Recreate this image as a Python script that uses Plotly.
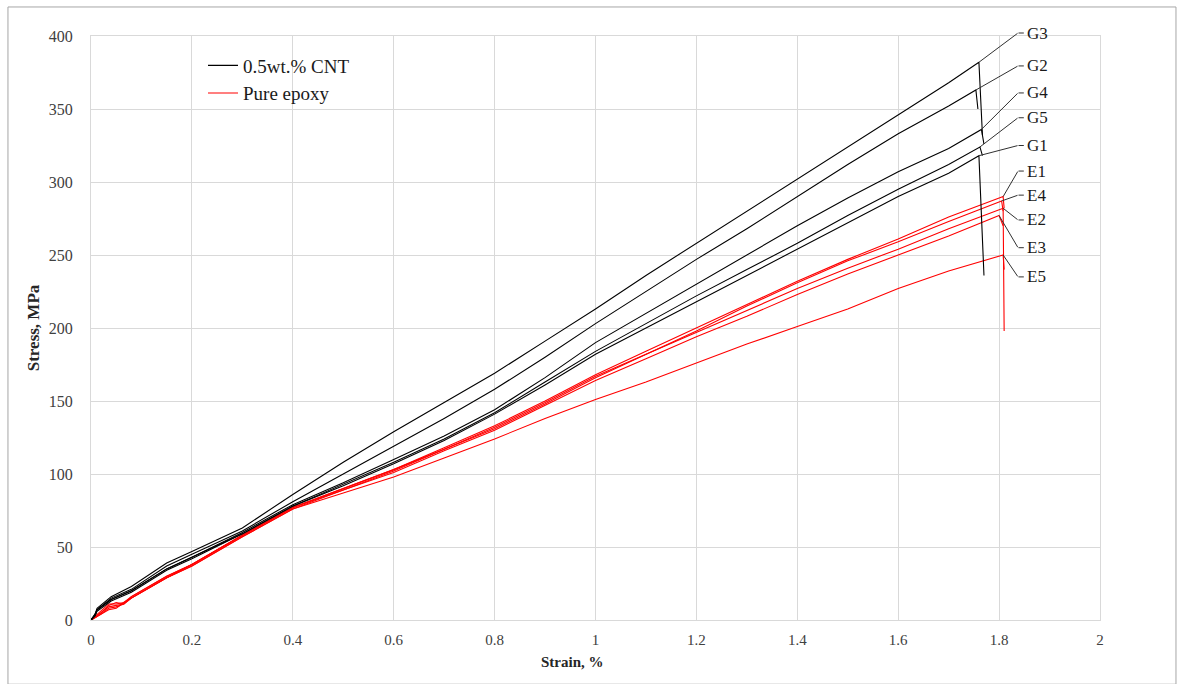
import plotly.graph_objects as go

# ---- tensile test curves: strain (%) vs stress (MPa) ----
# 0.5 wt.% CNT specimens
g1_strain = [0, 0.008, 0.012, 0.04, 0.08, 0.15, 0.2, 0.3, 0.4, 0.5, 0.6, 0.7, 0.8, 0.9, 1.0, 1.1, 1.2, 1.3, 1.4, 1.5, 1.6, 1.7, 1.76, 1.77]
g1_stress = [0, 3, 6, 13, 19, 34, 42, 59, 78, 92, 107, 123, 141, 161, 182, 200, 218, 236, 254, 272, 290, 306, 318, 236]

g2_strain = [0, 0.008, 0.012, 0.04, 0.08, 0.15, 0.2, 0.3, 0.4, 0.5, 0.6, 0.7, 0.8, 0.9, 1.0, 1.1, 1.2, 1.3, 1.4, 1.5, 1.6, 1.7, 1.754, 1.758]
g2_stress = [0, 4, 7, 15, 21, 37, 45, 61, 81, 100, 119, 138, 158, 180, 203, 225, 247, 268, 290, 312, 333, 352, 363, 350]

g3_strain = [0, 0.008, 0.012, 0.04, 0.08, 0.15, 0.2, 0.3, 0.4, 0.5, 0.6, 0.7, 0.8, 0.9, 1.0, 1.1, 1.2, 1.3, 1.4, 1.5, 1.6, 1.7, 1.76, 1.767]
g3_stress = [0, 4, 8, 16, 23, 39, 47, 63, 86, 108, 129, 149, 169, 191, 213, 236, 258, 280, 302, 324, 346, 368, 382, 332]

g4_strain = [0, 0.008, 0.012, 0.04, 0.08, 0.15, 0.2, 0.3, 0.4, 0.5, 0.6, 0.7, 0.8, 0.9, 1.0, 1.1, 1.2, 1.3, 1.4, 1.5, 1.6, 1.7, 1.765, 1.77]
g4_stress = [0, 3, 7, 14, 20, 35, 43, 60, 79, 94, 110, 126, 144, 166, 190, 210, 230, 250, 270, 289, 307, 323, 336, 326]

g5_strain = [0, 0.008, 0.012, 0.04, 0.08, 0.15, 0.2, 0.3, 0.4, 0.5, 0.6, 0.7, 0.8, 0.9, 1.0, 1.1, 1.2, 1.3, 1.4, 1.5, 1.6, 1.7, 1.762, 1.767]
g5_stress = [0, 3, 7, 14, 20, 35, 43, 59, 78, 93, 108, 124, 142, 163, 184, 203, 222, 240, 258, 277, 295, 312, 324, 318]

# pure epoxy specimens
e1_strain = [0, 0.01, 0.02, 0.035, 0.05, 0.065, 0.08, 0.15, 0.2, 0.3, 0.4, 0.5, 0.6, 0.7, 0.8, 0.9, 1.0, 1.1, 1.2, 1.3, 1.4, 1.5, 1.6, 1.7, 1.808, 1.81]
e1_stress = [0, 3, 6, 11, 11, 12, 16, 30, 38, 58, 77, 90, 103, 118, 133, 150, 168, 184, 200, 216, 232, 247, 261, 276, 290, 282]

e2_strain = [0, 0.01, 0.02, 0.035, 0.05, 0.065, 0.08, 0.15, 0.2, 0.3, 0.4, 0.5, 0.6, 0.7, 0.8, 0.9, 1.0, 1.1, 1.2, 1.3, 1.4, 1.5, 1.6, 1.7, 1.808, 1.81]
e2_stress = [0, 2, 4, 7, 8, 12, 15, 29, 38, 58, 77, 90, 103, 117, 132, 149, 167, 182, 197, 212, 227, 241, 254, 268, 282, 198]

e3_strain = [0, 0.01, 0.02, 0.035, 0.05, 0.065, 0.08, 0.15, 0.2, 0.3, 0.4, 0.5, 0.6, 0.7, 0.8, 0.9, 1.0, 1.1, 1.2, 1.3, 1.4, 1.5, 1.6, 1.7, 1.8, 1.808]
e3_stress = [0, 2, 5, 9, 10, 11, 15, 29, 37, 57, 76, 89, 101, 116, 130, 147, 164, 179, 194, 208, 223, 237, 250, 263, 277, 270]

e4_strain = [0, 0.01, 0.02, 0.035, 0.05, 0.065, 0.08, 0.15, 0.2, 0.3, 0.4, 0.5, 0.6, 0.7, 0.8, 0.9, 1.0, 1.1, 1.2, 1.3, 1.4, 1.5, 1.6, 1.7, 1.805, 1.808]
e4_stress = [0, 3, 5, 10, 12, 11, 16, 30, 38, 58, 77, 89, 102, 117, 131, 148, 166, 182, 198, 215, 231, 246, 259, 273, 287, 280]

e5_strain = [0, 0.01, 0.02, 0.035, 0.05, 0.065, 0.08, 0.15, 0.2, 0.3, 0.4, 0.5, 0.6, 0.7, 0.8, 0.9, 1.0, 1.1, 1.2, 1.3, 1.4, 1.5, 1.6, 1.7, 1.808, 1.81]
e5_stress = [0, 2, 4, 8, 9, 11, 15, 29, 37, 57, 76, 87, 98, 111, 124, 138, 151, 163, 176, 189, 201, 213, 227, 239, 250, 240]

cnt_names = ["G1", "G2", "G3", "G4", "G5"]
epoxy_names = ["E1", "E2", "E3", "E4", "E5"]

# label column on the right: stress level of each tag (kept inside the axis
# range) plus an extra upward pixel nudge for the tag that sits above the top
tag_names = ["G3", "G2", "G4", "G5", "G1", "E1", "E4", "E2", "E3", "E5"]
tag_levels = [400, 379.5, 361, 344, 325, 307.5, 291, 274, 255, 235]
tag_nudge_px = [3, 0, 0, 0, 0, 0, 0, 0, 0, 0]

x_ticks = [0, 0.2, 0.4, 0.6, 0.8, 1, 1.2, 1.4, 1.6, 1.8, 2]
y_ticks = [0, 50, 100, 150, 200, 250, 300, 350, 400]

curves = {
    "G1": (g1_strain, g1_stress), "G2": (g2_strain, g2_stress), "G3": (g3_strain, g3_stress),
    "G4": (g4_strain, g4_stress), "G5": (g5_strain, g5_stress),
    "E1": (e1_strain, e1_stress), "E2": (e2_strain, e2_stress), "E3": (e3_strain, e3_stress),
    "E4": (e4_strain, e4_stress), "E5": (e5_strain, e5_stress),
}

SERIF = "Liberation Serif, Times New Roman, serif"
fig = go.Figure()

for i, name in enumerate(epoxy_names):
    xs, ys = curves[name]
    fig.add_trace(go.Scatter(x=xs, y=ys, mode="lines", name="Pure epoxy",
                             legendgroup="epoxy", showlegend=(i == 0),
                             line=dict(color="#ff0000", width=1.1)))
for i, name in enumerate(cnt_names):
    xs, ys = curves[name]
    fig.add_trace(go.Scatter(x=xs, y=ys, mode="lines", name="0.5wt.% CNT",
                             legendgroup="cnt", showlegend=(i == 0),
                             line=dict(color="#000000", width=1.1)))

# leader lines from each curve's peak to its tag
ELBOW_X = 1.8375
TAG_X = 1.849
LEAD = "#303030"
PX_PER_MPA = 584 / 400
for name, level, nudge in zip(tag_names, tag_levels, tag_nudge_px):
    xs, ys = curves[name]
    px, py = xs[-2], ys[-2]
    fig.add_annotation(x=px, y=py, ax=ELBOW_X, ay=level + nudge / PX_PER_MPA,
                       axref="x", ayref="y", xref="x", yref="y", text="",
                       showarrow=True, arrowhead=0, arrowwidth=1, arrowcolor=LEAD,
                       standoff=0, startstandoff=0, borderpad=0)
    fig.add_annotation(x=TAG_X, y=level, ax=ELBOW_X, ay=level, axref="x", ayref="y",
                       xref="x", yref="y", text="", showarrow=True, arrowhead=0,
                       arrowwidth=1, arrowcolor=LEAD, standoff=0, startstandoff=0,
                       borderpad=0, yshift=nudge)
    fig.add_annotation(x=TAG_X + 0.002, y=level, xref="x", yref="y", text=name,
                       showarrow=False, xanchor="left", yanchor="middle", yshift=nudge,
                       font=dict(family=SERIF, size=17, color="#1a1a1a"))

# x-axis title
fig.add_annotation(x=0.4777, y=-0.072, xref="paper", yref="paper",
                   text="<b>Strain, %</b>", showarrow=False,
                   xanchor="center", yanchor="middle",
                   font=dict(family=SERIF, size=15, color="#262626"))

# outer frame around the whole chart
fig.add_shape(type="rect", xref="paper", yref="paper",
              x0=-0.0823, x1=1.0753, y0=-0.11, y1=1.0497,
              line=dict(color="#a6a6a6", width=1), fillcolor="rgba(0,0,0,0)")

fig.update_layout(
    width=1179, height=684, autosize=False,
    margin=dict(l=91, r=79, t=36, b=64),
    paper_bgcolor="white", plot_bgcolor="white",
    font=dict(family=SERIF, color="#404040"),
    legend=dict(x=0.111, y=0.982, xanchor="left", yanchor="top",
                bgcolor="rgba(0,0,0,0)", borderwidth=0,
                font=dict(family=SERIF, size=19, color="#1a1a1a"),
                traceorder="reversed", tracegroupgap=0),
    xaxis=dict(range=[0, 2], tickvals=x_ticks, showgrid=True, gridcolor="#d9d9d9",
               gridwidth=1, zeroline=False, showline=True, linecolor="#d9d9d9",
               mirror=True, ticks="", ticklabelstandoff=6,
               tickfont=dict(family=SERIF, size=15, color="#404040")),
    yaxis=dict(range=[0, 400], tickvals=y_ticks, showgrid=True, gridcolor="#d9d9d9",
               gridwidth=1, zeroline=False, showline=True, linecolor="#d9d9d9",
               mirror=True, ticks="", ticklabelstandoff=14,
               tickfont=dict(family=SERIF, size=16, color="#404040"),
               title=dict(text="<b>Stress, MPa</b>", standoff=4,
                          font=dict(family=SERIF, size=17, color="#262626"))),
)

fig.write_html("out.html")
